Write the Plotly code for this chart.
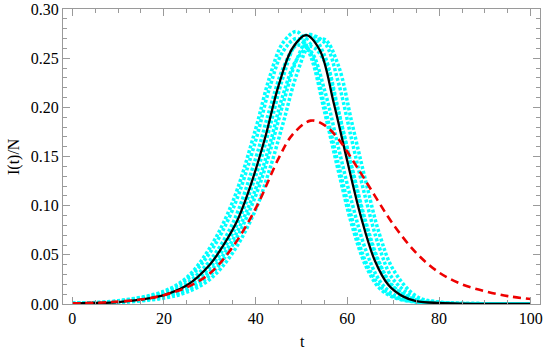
import plotly.graph_objects as go

# black curve (solid)
t_black = [0, 5, 10, 15, 20, 25, 30, 33, 36, 39, 42, 45, 48, 51, 54, 57, 60, 63, 66, 69, 72, 75, 80, 85, 90, 100]
i_black = [0.0005, 0.001, 0.002, 0.0045, 0.009, 0.019, 0.040, 0.060, 0.085, 0.122, 0.168, 0.222, 0.260, 0.2735,
           0.258, 0.205, 0.145, 0.088, 0.044, 0.019, 0.008, 0.003, 0.001, 0.0003, 0.0001, 0.0]

# red curve (dashed)
t_red = [0, 5, 10, 15, 20, 25, 30, 35, 40, 45, 48, 52, 55, 58, 62, 66, 70, 75, 80, 85, 90, 95, 100]
i_red = [0.0007, 0.0012, 0.0025, 0.0045, 0.009, 0.017, 0.031, 0.058, 0.097, 0.148, 0.172, 0.1865, 0.182,
         0.168, 0.140, 0.110, 0.081, 0.052, 0.032, 0.020, 0.013, 0.008, 0.005]

# cyan curves (dotted)
t_cyan = [0, 10, 20, 25, 30, 35, 40, 43, 46, 49, 52, 55, 58, 61, 64, 67, 70, 75, 80, 90, 100]
cyan_1 = [0.0008, 0.0033, 0.013, 0.027, 0.057, 0.104, 0.178, 0.230, 0.266, 0.277, 0.252, 0.196, 0.136, 0.080,
          0.039, 0.016, 0.007, 0.0017, 0.0005, 0.0001, 0.0]
cyan_2 = [0.0007, 0.003, 0.012, 0.025, 0.052, 0.096, 0.166, 0.219, 0.257, 0.270, 0.255, 0.202, 0.143, 0.087,
          0.043, 0.019, 0.008, 0.002, 0.0007, 0.0001, 0.0]
cyan_3 = [0.0006, 0.0024, 0.010, 0.021, 0.044, 0.082, 0.148, 0.197, 0.240, 0.263, 0.257, 0.218, 0.160, 0.103,
          0.055, 0.024, 0.010, 0.0025, 0.0008, 0.0001, 0.0]
cyan_4 = [0.0004, 0.0017, 0.0077, 0.015, 0.033, 0.065, 0.117, 0.161, 0.213, 0.249, 0.262, 0.247, 0.196, 0.139,
          0.084, 0.042, 0.018, 0.0043, 0.0012, 0.0002, 0.0]
cyan_5 = [0.0004, 0.0016, 0.007, 0.014, 0.029, 0.060, 0.110, 0.153, 0.204, 0.249, 0.2725, 0.266, 0.226, 0.166,
          0.107, 0.057, 0.025, 0.006, 0.0018, 0.0003, 0.0]
cyan_6 = [0.0003, 0.0014, 0.006, 0.012, 0.025, 0.052, 0.096, 0.136, 0.184, 0.234, 0.265, 0.269, 0.243, 0.184,
          0.125, 0.071, 0.035, 0.008, 0.002, 0.0003, 0.0]
cyan_7 = [0.0005, 0.0019, 0.0085, 0.0175, 0.037, 0.072, 0.130, 0.178, 0.231, 0.266, 0.274, 0.253, 0.198, 0.137,
          0.080, 0.040, 0.017, 0.004, 0.0012, 0.0002, 0.0]
cyan_series = [cyan_1, cyan_2, cyan_3, cyan_4, cyan_5, cyan_6, cyan_7]

x_ticks = [0, 20, 40, 60, 80, 100]
y_ticks = [0.00, 0.05, 0.10, 0.15, 0.20, 0.25, 0.30]

fig = go.Figure()
for ys in cyan_series:
    fig.add_trace(go.Scatter(x=t_cyan, y=ys, mode="lines",
                             line=dict(color="#00FFFF", width=3.5, dash="3px,2px", shape="spline", smoothing=1.0),
                             showlegend=False, hoverinfo="skip"))
fig.add_trace(go.Scatter(x=t_black, y=i_black, mode="lines",
                         line=dict(color="black", width=2.3, shape="spline", smoothing=1.0),
                         showlegend=False))
fig.add_trace(go.Scatter(x=t_red, y=i_red, mode="lines",
                         line=dict(color="#EE0000", width=2.6, dash="8px,5px", shape="spline", smoothing=1.0),
                         showlegend=False))

font = "Liberation Serif"
axis_common = dict(showline=True, linecolor="#9a9a9a", linewidth=1, mirror="allticks",
                   ticks="inside", tickcolor="#9a9a9a", ticklen=7, tickwidth=1,
                   showgrid=False, zeroline=False, automargin=False,
                   tickfont=dict(family=font, size=16, color="black"))

fig.update_xaxes(**axis_common, range=[-2, 102], tickvals=x_ticks,
                 minor=dict(ticks="inside", ticklen=4, dtick=5, tick0=0, tickcolor="#9a9a9a", showgrid=False))
fig.update_yaxes(**axis_common, range=[0, 0.3], tickvals=y_ticks, tickformat=".2f",
                 minor=dict(ticks="inside", ticklen=4, dtick=0.01, tick0=0, tickcolor="#9a9a9a", showgrid=False))

fig.add_annotation(text="I(t)/N", xref="paper", yref="paper", x=-(63 - 14) / 477, y=(304 - 157) / 295,
                   showarrow=False, textangle=-90, font=dict(family=font, size=16, color="black"),
                   xanchor="center", yanchor="middle")
fig.add_annotation(text="t", xref="paper", yref="paper", x=(302 - 63) / 477, y=-(341 - 304) / 295,
                   showarrow=False, font=dict(family=font, size=16, color="black"),
                   xanchor="center", yanchor="middle")

fig.update_layout(width=545, height=354, margin=dict(l=63, r=5, t=9, b=50),
                  plot_bgcolor="white", paper_bgcolor="white")

fig.write_html("out.html", config={"displayModeBar": False},
               post_script="document.body.style.margin='0';document.body.style.padding='0';")
